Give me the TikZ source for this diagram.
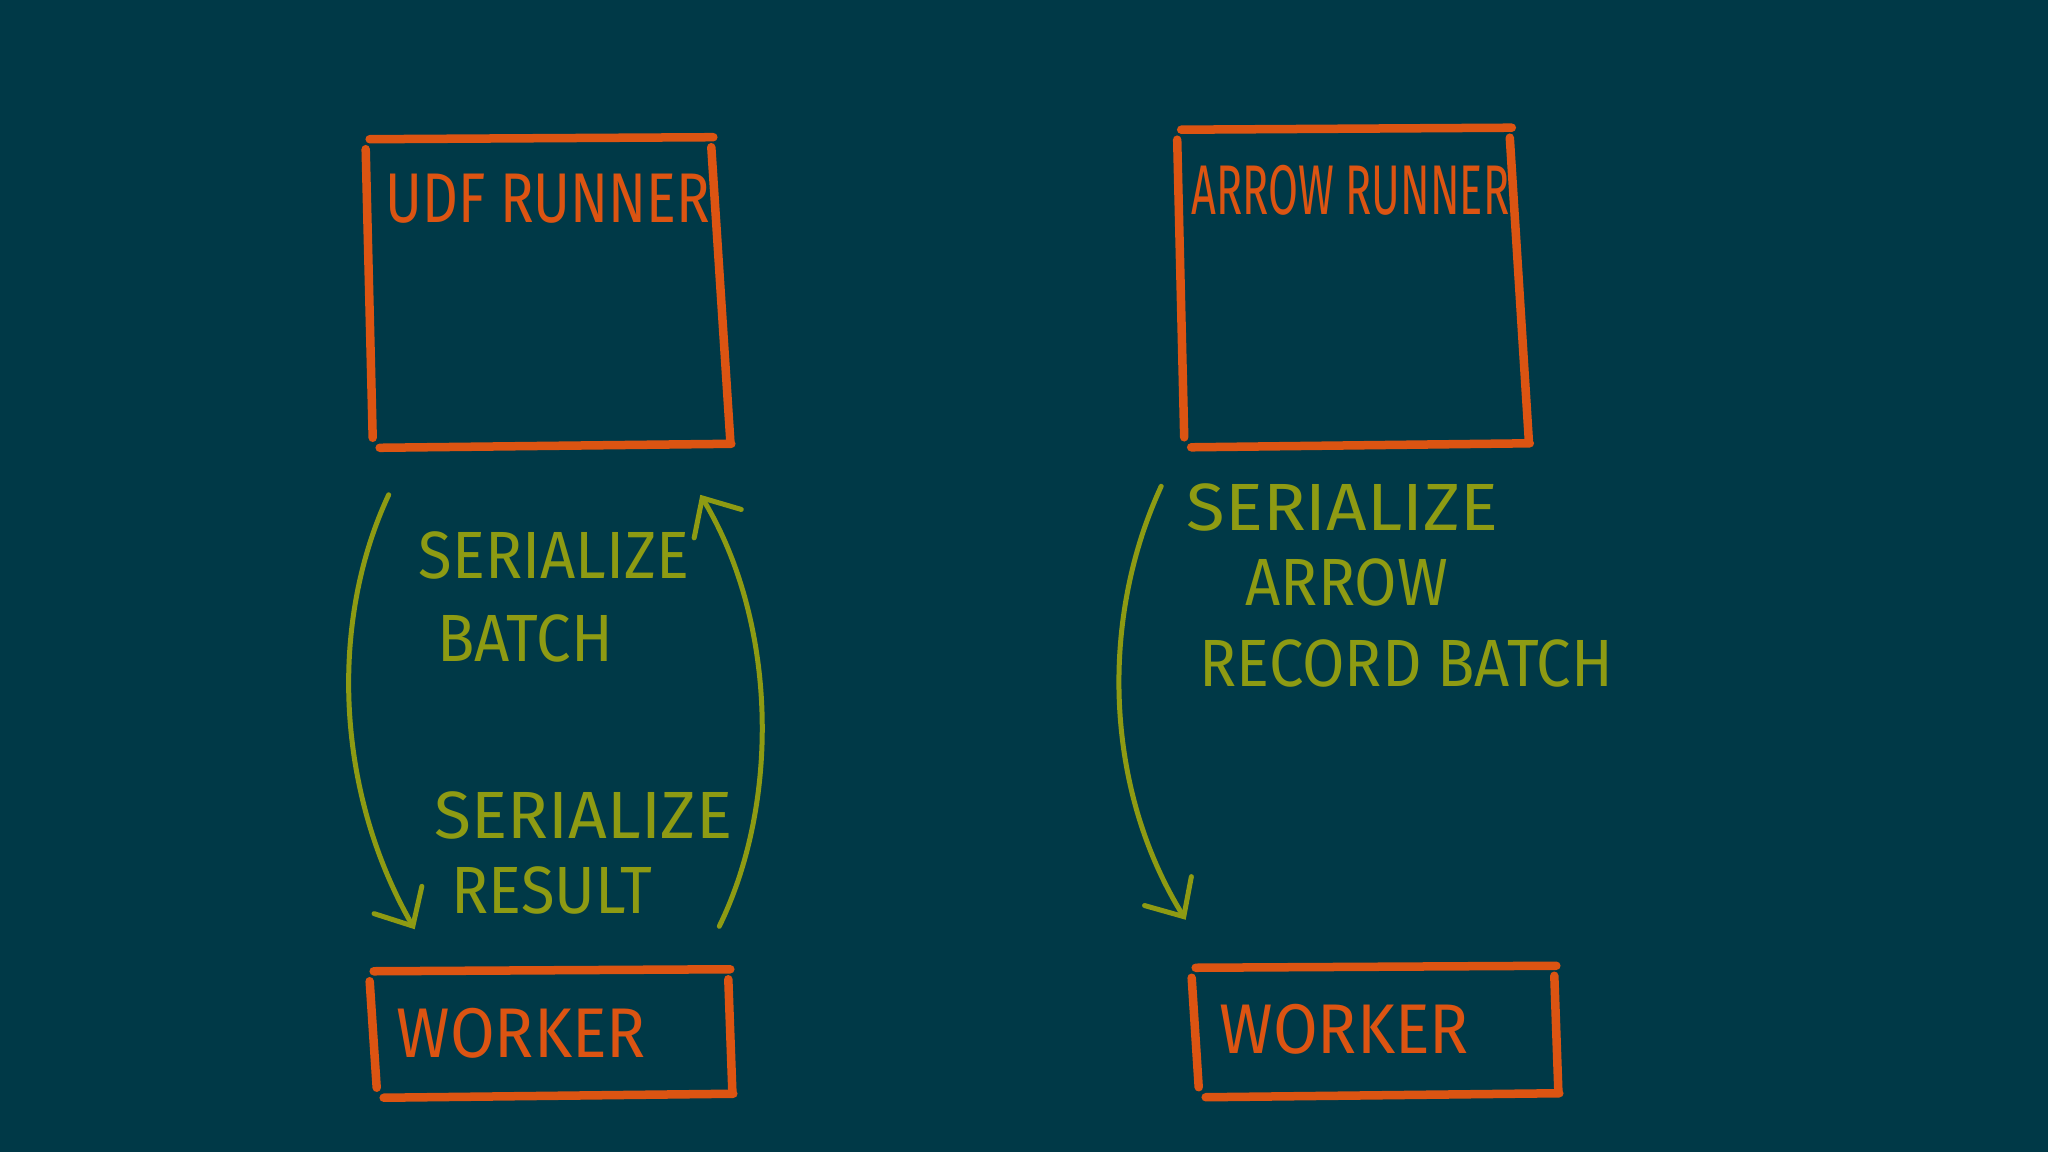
\documentclass[tikz,border=0pt]{standalone}
\usepackage{fontspec}
\usepackage{graphicx}
\setmainfont{Fira Sans}[FakeStretch=0.92]
\usetikzlibrary{arrows.meta}
\definecolor{board}{HTML}{003947}
\definecolor{chalkorange}{HTML}{DC5412}
\definecolor{chalkgreen}{HTML}{8E9B13}
\tikzset{
        frame/.style={draw=none, inner sep=0pt},
        stroke/.style={draw=chalkorange, line width=0.085cm, line cap=round},
        title/.style={text=chalkorange, anchor=west, inner sep=0pt, font=\fontsize{20}{24}\selectfont},
        note/.style={text=chalkgreen, anchor=west, inner sep=0pt, font=\fontsize{19}{23}\selectfont},
        flow/.style={draw=chalkgreen, line width=0.05cm, line cap=round,
          -{Straight Barb[length=0.3cm, width=0.55cm, line cap=round]}}
          }
% four loose strokes round a named frame
\newcommand\sketchbox[2][19]{%
        \draw[stroke] ([shift={(4,3)}]#2.north west) -- ([shift={(-#1+2,1)}]#2.north east);
        \draw[stroke] ([shift={(-#1,11)}]#2.north east) -- ([shift={(0,-7)}]#2.south east);
        \draw[stroke] ([shift={(14,0)}]#2.south west) -- ([shift={(1,-4)}]#2.south east);
        \draw[stroke] ([shift={(0,13)}]#2.north west) -- ([shift={(7,-10)}]#2.south west);
}
\newcommand\squeeze[2]{\scalebox{#1}[1]{#2}}

\begin{document}
\begin{tikzpicture}[x=0.01cm, y=-0.01cm]
        \fill[board] (0,0) rectangle (2048,1152);
        \useasboundingbox (0,0) rectangle (2048,1152);

        % boxes
        \node[frame, minimum width=3.63cm, minimum height=3.10cm] (udf) at (548,292) {};
        \node[frame, minimum width=3.50cm, minimum height=3.19cm] (arrowrun) at (1353,287) {};
        \node[frame, minimum width=3.61cm, minimum height=1.28cm] (workerl) at (551,1033) {};
        \node[frame, minimum width=3.65cm, minimum height=1.31cm] (workerr) at (1375,1031) {};
        \sketchbox{udf}
        \sketchbox{arrowrun}
        \sketchbox[4]{workerl}
        \sketchbox[4]{workerr}

        \node[title] (udftxt) at (385,199) {\squeeze{0.86}{UDF RUNNER}};
        \node[title] (arrowtxt) at (1191,190) {\squeeze{0.67}{ARROW RUNNER}};
        \node[title] (wltxt) at (396,1033) {WORKER};
        \node[title] (wrtxt) at (1219,1029) {WORKER};

        % labels
        \node[note] (serb) at (418,555) {SERIALIZE};
        \node[note] (batch) at (437,638) {BATCH};
        \node[note] (serr) at (434,815) {\squeeze{1.1}{SERIALIZE}};
        \node[note] (result) at (451,890) {RESULT};
        \node[note] (sera) at (1186,507) {\squeeze{1.15}{SERIALIZE}};
        \node[note] (arrowl) at (1245,582) {ARROW};
        \node[note] (record) at (1199,663) {RECORD BATCH};

        % flows
        \draw[flow] ([shift={(23,47)}]udf.south west)
          .. controls +(-59,126) and +(-80,-140) .. ([shift={(45,-39)}]workerl.north west);
        \draw[flow] ([shift={(-13,-42)}]workerl.north east)
          .. controls +(62,-127) and +(76,126) .. ([shift={(-30,47)}]udf.south east);
        \draw[flow] ([shift={(-16,39)}]arrowrun.south west)
          .. controls +(-62,134) and +(-81,-131) .. ([shift={(-6,-45)}]workerr.north west);
\end{tikzpicture}
\end{document}
